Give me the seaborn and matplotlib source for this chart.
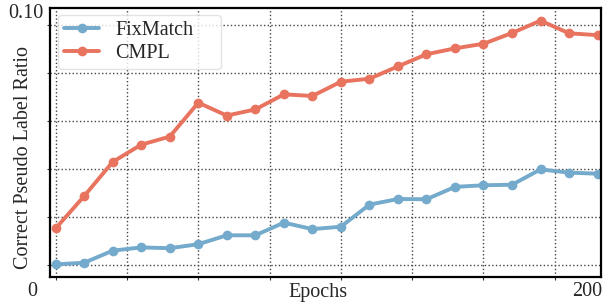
import numpy as np
import pandas as pd
import matplotlib
matplotlib.use('Agg')
import matplotlib.pyplot as plt
import seaborn as sns

epochs = list(range(0, 200, 10))
fixmatch = [0.0047, 0.0053, 0.0098, 0.0110, 0.0107, 0.0122, 0.0155, 0.0155, 0.0202, 0.0178,
            0.0187, 0.0269, 0.0290, 0.0289, 0.0335, 0.0341, 0.0343, 0.0400, 0.0388, 0.0384]
cmpl = [0.0181, 0.0301, 0.0428, 0.0492, 0.0522, 0.0648, 0.0600, 0.0623, 0.0679, 0.0673,
        0.0726, 0.0737, 0.0783, 0.0828, 0.0850, 0.0867, 0.0907, 0.0953, 0.0906, 0.0899]
methods = ['FixMatch', 'CMPL']
colors = ['#74AACC', '#E8735E']
x_grid = [0, 25, 50, 75, 100, 125, 150, 175]
y_grid = [0.0045, 0.0223, 0.0401, 0.0580, 0.0758, 0.0936]

df = pd.DataFrame({
    'Epoch': epochs * 2,
    'Ratio': fixmatch + cmpl,
    'Method': ['FixMatch'] * len(epochs) + ['CMPL'] * len(epochs),
})

sns.set_theme(style='ticks')
plt.rcParams['font.family'] = ['Liberation Serif', 'DejaVu Serif']
FS = 14.5

fig = plt.figure(figsize=(6.03, 3.04), dpi=100)
ax = fig.add_axes([50 / 603, 27 / 304, 551 / 603, 269 / 304])

sns.lineplot(data=df, x='Epoch', y='Ratio', hue='Method', hue_order=methods,
             palette=colors, marker='o', markersize=7, markeredgewidth=0,
             linewidth=2.8, ax=ax)

ax.set_xlim(-2, 191.2)
ax.set_ylim(0, 0.10)
ax.set_xticks(x_grid)
ax.set_yticks(y_grid)
ax.set_xticklabels([])
ax.set_yticklabels([])
ax.tick_params(length=2, width=0.8, color='#333333')
ax.grid(True, linestyle=':', color='#444444', linewidth=1.0)
for s in ax.spines.values():
    s.set_color('black')
    s.set_linewidth(1.6)

ax.set_xlabel('')
ax.set_ylabel('Correct Pseudo Label Ratio', fontsize=FS)
ax.yaxis.set_label_coords(-0.031, 0.444)

fig.text(26 / 603, 1 - 13 / 304, '0.10', ha='center', va='center', fontsize=FS)
fig.text(32 / 603, 1 - 292 / 304, '0', ha='center', va='center', fontsize=FS)
fig.text(318 / 603, 1 - 292 / 304, 'Epochs', ha='center', va='center', fontsize=FS)
fig.text(587 / 603, 1 - 292 / 304, '200', ha='center', va='center', fontsize=FS)

leg = ax.legend(loc='upper left', bbox_to_anchor=(0.0145, 0.974, 0.296, 0.0),
                mode='expand', borderaxespad=0, fontsize=FS, handlelength=1.75,
                frameon=True, labelspacing=0.2, borderpad=0.3)
leg.get_frame().set_edgecolor('#DDDDDD')

fig.savefig('out.png', dpi=100)
